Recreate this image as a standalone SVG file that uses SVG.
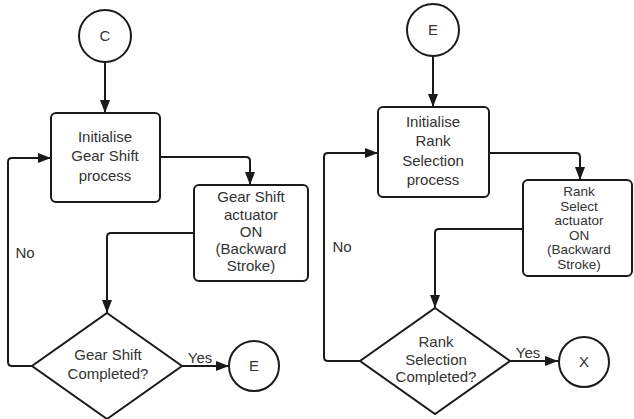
<svg xmlns="http://www.w3.org/2000/svg" width="634" height="419" viewBox="0 0 634 419">
  <style>
    .shape { fill: #ffffff; stroke: #1a1a1a; stroke-width: 2; }
    .edge { fill: none; stroke: #1a1a1a; stroke-width: 2; }
    .lbl { font-family: "Liberation Sans", Arial, sans-serif; font-size: 15px; fill: #333333; text-anchor: middle; }
    .sm { font-size: 13.5px; }
  </style>
  <defs>
    <marker id="arrow" viewBox="0 0 13 10" refX="13" refY="5" markerWidth="13" markerHeight="10" markerUnits="userSpaceOnUse" orient="auto">
      <path d="M0,0 L13,5 L0,10 z" fill="#1a1a1a"/>
    </marker>
  </defs>
  <rect width="634" height="419" fill="#ffffff"/>

  <!-- connectors -->
  <g id="connectors">
    <path class="edge" d="M105,62 V113" marker-end="url(#arrow)"/>
    <path class="edge" d="M160,157 H246 Q250,157 250,161 V185" marker-end="url(#arrow)"/>
    <path class="edge" d="M194,233 H111 Q107,233 107,237 V313" marker-end="url(#arrow)"/>
    <path class="edge" d="M182,366 H229" marker-end="url(#arrow)"/>
    <path class="edge" d="M32,366 H12 Q8,366 8,362 V162 Q8,158 12,158 H51" marker-end="url(#arrow)"/>
    <text class="lbl" x="200" y="363">Yes</text>
    <text class="lbl" x="25" y="258">No</text>

    <path class="edge" d="M433,56 V107" marker-end="url(#arrow)"/>
    <path class="edge" d="M489,153 H576 Q580,153 580,157 V180" marker-end="url(#arrow)"/>
    <path class="edge" d="M523,229 H439 Q435,229 435,233 V308" marker-end="url(#arrow)"/>
    <path class="edge" d="M510,361 H558" marker-end="url(#arrow)"/>
    <path class="edge" d="M360,361 H328 Q324,361 324,357 V157 Q324,153 328,153 H378" marker-end="url(#arrow)"/>
    <text class="lbl" x="528" y="358">Yes</text>
    <text class="lbl" x="342" y="252">No</text>
  </g>

  <!-- gear shift sequence -->
  <g id="conn-c">
    <circle class="shape" cx="105" cy="36" r="26"/>
    <text class="lbl" x="105" y="41">C</text>
  </g>
  <g id="init-gear">
    <rect class="shape" x="51" y="113" width="109" height="89" rx="5"/>
    <text class="lbl" x="105" y="142">Initialise</text>
    <text class="lbl" x="105" y="161">Gear Shift</text>
    <text class="lbl" x="105" y="181">process</text>
  </g>
  <g id="gear-actuator">
    <rect class="shape" x="194" y="185" width="114" height="96" rx="5"/>
    <text class="lbl" x="251" y="202">Gear Shift</text>
    <text class="lbl" x="251" y="220">actuator</text>
    <text class="lbl" x="251" y="237">ON</text>
    <text class="lbl" x="251" y="254">(Backward</text>
    <text class="lbl" x="251" y="271">Stroke)</text>
  </g>
  <g id="gear-done">
    <polygon class="shape" points="107,313 182,366 107,419 32,366"/>
    <text class="lbl" x="108" y="360">Gear Shift</text>
    <text class="lbl" x="108" y="379">Completed?</text>
  </g>
  <g id="conn-e-out">
    <circle class="shape" cx="254" cy="366" r="25"/>
    <text class="lbl" x="254" y="371">E</text>
  </g>

  <!-- rank selection sequence -->
  <g id="conn-e-in">
    <circle class="shape" cx="433" cy="30" r="26"/>
    <text class="lbl" x="433" y="35">E</text>
  </g>
  <g id="init-rank">
    <rect class="shape" x="378" y="107" width="111" height="90" rx="5"/>
    <text class="lbl" x="433" y="127">Initialise</text>
    <text class="lbl" x="433" y="146">Rank</text>
    <text class="lbl" x="433" y="166">Selection</text>
    <text class="lbl" x="433" y="185">process</text>
  </g>
  <g id="rank-actuator">
    <rect class="shape" x="523" y="180" width="109" height="96" rx="5"/>
    <text class="lbl sm" x="579" y="196">Rank</text>
    <text class="lbl sm" x="579" y="210.5">Select</text>
    <text class="lbl sm" x="579" y="225">actuator</text>
    <text class="lbl sm" x="579" y="239.5">ON</text>
    <text class="lbl sm" x="579" y="254">(Backward</text>
    <text class="lbl sm" x="579" y="268.5">Stroke)</text>
  </g>
  <g id="rank-done">
    <polygon class="shape" points="435,308 510,361 435,414 360,361"/>
    <text class="lbl" x="436" y="347">Rank</text>
    <text class="lbl" x="436" y="365">Selection</text>
    <text class="lbl" x="436" y="382">Completed?</text>
  </g>
  <g id="conn-x">
    <circle class="shape" cx="584" cy="362" r="25"/>
    <text class="lbl" x="584" y="367">X</text>
  </g>
</svg>
